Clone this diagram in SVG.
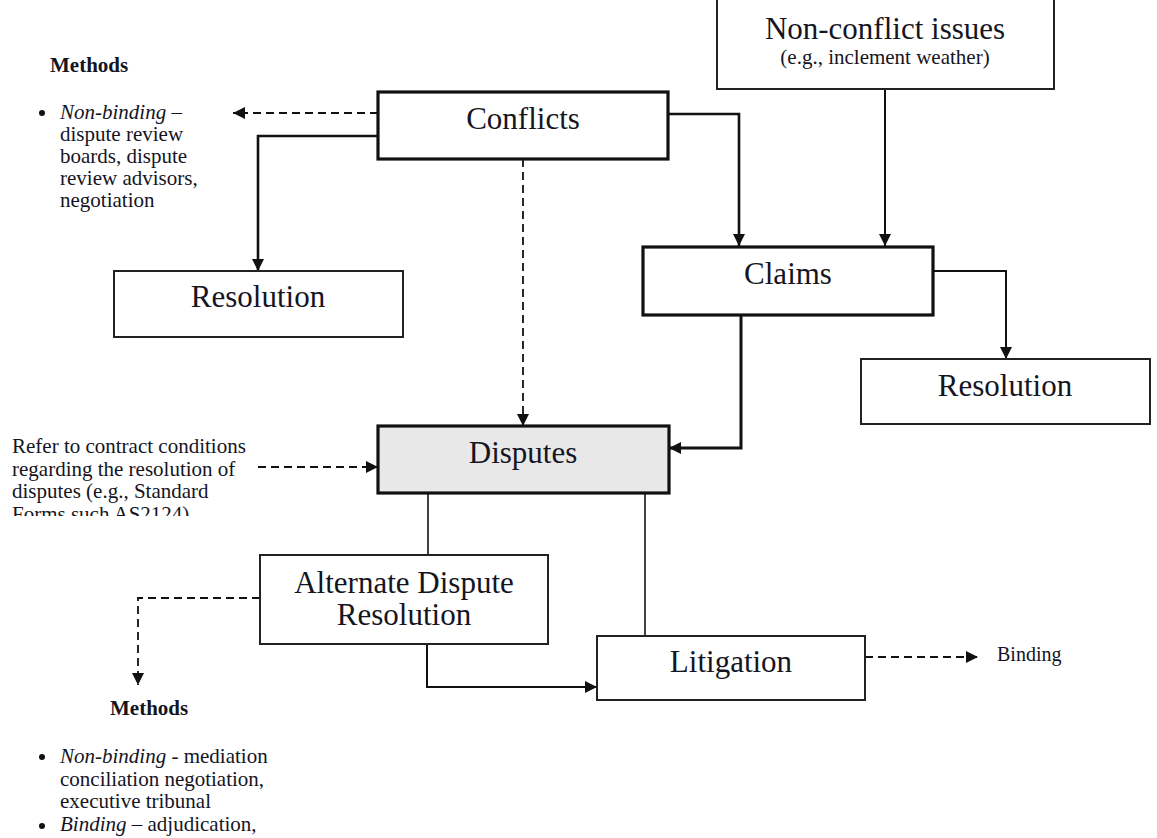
<svg xmlns="http://www.w3.org/2000/svg" width="1157" height="838" viewBox="0 0 1157 838">
<defs>
<style>
text{font-family:"Liberation Serif","Times New Roman",serif;fill:#15151f}
.lbl{font-size:31px;text-anchor:middle}
.sm{font-size:21px}
.b{font-weight:bold}
.thick{fill:#fff;stroke:#111;stroke-width:3.2}
.thin{fill:#fff;stroke:#222;stroke-width:2}
.c{fill:none;stroke:#111}
.dash{stroke-dasharray:8 5;stroke-width:1.8}
</style>
<marker id="ah" viewBox="0 0 12 12" refX="12" refY="6" markerWidth="12" markerHeight="12" markerUnits="userSpaceOnUse" orient="auto">
<path d="M0,0 L12,6 L0,12 z" fill="#111"/>
</marker>
<clipPath id="clipRefer"><rect x="0" y="420" width="380" height="96"/></clipPath>
</defs>
<rect width="1157" height="838" fill="#fff"/>

<g id="connectors">
<path class="c dash" d="M378,113 H233" marker-end="url(#ah)"/>
<path class="c" stroke-width="2.6" d="M378,136 H258 V271" marker-end="url(#ah)"/>
<path class="c" stroke-width="2.6" d="M668,114 H739 V246" marker-end="url(#ah)"/>
<path class="c" stroke-width="2" d="M885,89 V246" marker-end="url(#ah)"/>
<path class="c" stroke-width="2" d="M933,271 H1006 V359" marker-end="url(#ah)"/>
<path class="c dash" d="M523,159 V426" marker-end="url(#ah)"/>
<path class="c" stroke-width="3" d="M741,315 V448 H669" marker-end="url(#ah)"/>
<path class="c dash" d="M258,467 H378" marker-end="url(#ah)"/>
<path class="c" stroke-width="1.6" d="M428,493 V555"/>
<path class="c" stroke-width="1.6" d="M645,493 V636"/>
<path class="c dash" d="M260,598 H138 V685" marker-end="url(#ah)"/>
<path class="c" stroke-width="2" d="M427,644 V687 H597" marker-end="url(#ah)"/>
<path class="c dash" d="M865,657 H978" marker-end="url(#ah)"/>
</g>

<g id="noncon">
<rect class="thin" x="717" y="-5" width="337" height="94"/>
<text class="lbl" x="885" y="39">Non-conflict issues</text>
<text class="sm" x="885" y="64" text-anchor="middle">(e.g., inclement weather)</text>
</g>

<g id="conflicts">
<rect class="thick" x="378" y="92" width="290" height="67"/>
<text class="lbl" x="523" y="129">Conflicts</text>
</g>

<g id="resolution1">
<rect class="thin" x="114" y="271" width="289" height="66"/>
<text class="lbl" x="258" y="307">Resolution</text>
</g>

<g id="claims">
<rect class="thick" x="643" y="247" width="290" height="68"/>
<text class="lbl" x="788" y="284">Claims</text>
</g>

<g id="resolution2">
<rect class="thin" x="861" y="359" width="289" height="65"/>
<text class="lbl" x="1005" y="396">Resolution</text>
</g>

<g id="disputes">
<rect class="thick" x="378" y="426" width="291" height="67" style="fill:#e8e8e8"/>
<text class="lbl" x="523" y="463">Disputes</text>
</g>

<g id="adr">
<rect class="thin" x="260" y="555" width="288" height="89"/>
<text class="lbl" x="404" y="593">Alternate Dispute</text>
<text class="lbl" x="404" y="625">Resolution</text>
</g>

<g id="litigation">
<rect class="thin" x="597" y="636" width="268" height="64"/>
<text class="lbl" x="731" y="672">Litigation</text>
</g>

<g id="binding">
<text class="sm" x="997" y="661" style="font-size:20px">Binding</text>
</g>

<g id="methods-top">
<text class="sm b" x="50" y="72">Methods</text>
<circle cx="42" cy="113" r="3" fill="#111"/>
<text class="sm" x="60" y="119"><tspan font-style="italic">Non-binding</tspan> –</text>
<text class="sm" x="60" y="141">dispute review</text>
<text class="sm" x="60" y="163">boards, dispute</text>
<text class="sm" x="60" y="185">review advisors,</text>
<text class="sm" x="60" y="207">negotiation</text>
</g>

<g id="refer" clip-path="url(#clipRefer)">
<text class="sm" x="12" y="453">Refer to contract conditions</text>
<text class="sm" x="12" y="476">regarding the resolution of</text>
<text class="sm" x="12" y="498">disputes (e.g., Standard</text>
<text class="sm" x="12" y="521">Forms such AS2124)</text>
</g>

<g id="methods-bottom">
<text class="sm b" x="110" y="715">Methods</text>
<circle cx="42" cy="757" r="3" fill="#111"/>
<text class="sm" x="60" y="763"><tspan font-style="italic">Non-binding</tspan> - mediation</text>
<text class="sm" x="60" y="786">conciliation negotiation,</text>
<text class="sm" x="60" y="808">executive tribunal</text>
<circle cx="42" cy="826" r="3" fill="#111"/>
<text class="sm" x="60" y="831"><tspan font-style="italic">Binding</tspan> – adjudication,</text>
</g>
</svg>
